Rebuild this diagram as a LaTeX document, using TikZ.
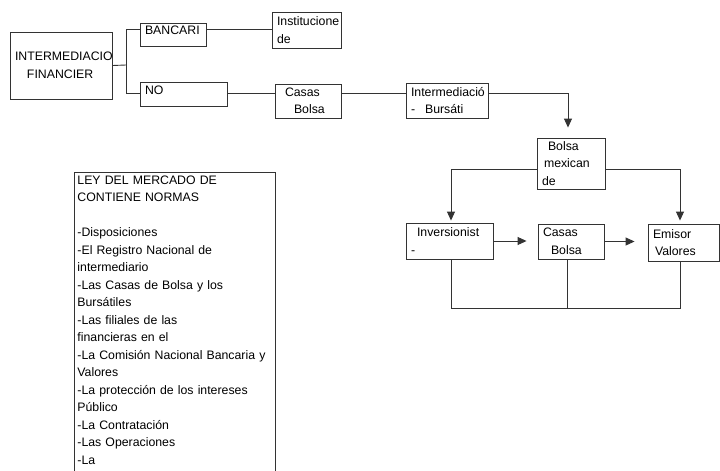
\documentclass[tikz,border=0pt]{standalone}
\usepackage{fontspec}
\setmainfont{Liberation Sans}
\usetikzlibrary{arrows.meta,calc}
\hyphenpenalty=10000

\begin{document}
\begin{tikzpicture}[x=1pt,y=-1pt,
			blk/.style={draw=black!80,line width=0.9pt,inner xsep=5pt,inner ysep=0pt,align=left,font=\fontsize{12.3}{17.5}\selectfont},
			ln/.style={draw=black!80,line width=0.9pt},
			arr/.style={ln,-{Triangle[length=9pt,width=8pt]}}]
		\useasboundingbox (0,0) rectangle (720,471);
		\path 	(61,65.5) 	node 	(fin) [blk,text width=92pt,minimum height=67pt] {INTERMEDIACIO\\\hspace*{12pt}FINANCIER}
		        (173,34.5) 	node 	(banc) [blk,text width=56pt,minimum height=23pt] {BANCARI\\[-9pt]\mbox{}}
		        (306.5,30) 	node 	(inst) [blk,text width=59pt,minimum height=36pt] {Institucione\\de}
		        (183.5,94) 	node 	(nob) [blk,text width=77pt,minimum height=24pt] {NO\\[-9pt]\mbox{}}
		        (308,101) 	node 	(cb1) [blk,text width=56pt,minimum height=34pt] {\hspace*{5pt}Casas\\\hspace*{14pt}Bolsa}
		        (447,100.5) node 	(ib) [blk,text width=72pt,minimum height=35pt] {Intermediació\\-\hspace*{10pt}Bursáti}
		        (571,163.5) node 	(bmv) [blk,text width=58pt,minimum height=51pt] {\hspace*{6pt}Bolsa\\\hspace*{2pt}mexican\\de}
		        (449.5,241) node 	(inv) [blk,text width=77pt,minimum height=36pt] {\hspace*{6pt}Inversionist\\-}
		        (571,241.5) node 	(cb2) [blk,text width=56pt,minimum height=35pt] {Casas\\\hspace*{8pt}Bolsa}
		        (683.5,242.5) node 	(emi) [blk,text width=61pt,minimum height=37pt] {Emisor\\\hspace*{2pt}Valores}
		        (74,172) 	node 	(ley) [blk,anchor=north west,text width=195pt,inner xsep=3pt,inner ysep=3pt]
		        {LEY DEL MERCADO DE\\CONTIENE NORMAS\\\mbox{}\\-Disposiciones\\-El Registro Nacional de\\intermediario\\-Las Casas de Bolsa y los\\Bursátiles\\-Las filiales de las\\financieras en el\\-La Comisión Nacional Bancaria y\\Valores\\-La protección de los intereses\\Público\\-La Contratación\\-Las Operaciones\\-La\\\mbox{}\\\mbox{}};
		% ramas del sistema financiero
		\draw [ln] (fin.east) -- (126,65) coordinate (j1);
		\draw [ln] (j1) |- ([yshift=5.5pt]banc.west);
		\draw [ln] (j1) |- ([yshift=1pt]nob.west);
		\draw [ln] ([yshift=5.5pt]banc.east) -- ([yshift=5.5pt]banc.east -| inst.west);
		\draw [ln] ([yshift=1pt]nob.east) -- ([yshift=1pt]nob.east -| cb1.west);
		\draw [ln] ([yshift=8pt]cb1.east) -- ([yshift=8pt]cb1.east -| ib.west);
		\draw [arr,shorten >=10pt] ([yshift=7.5pt]ib.east) -| ([xshift=-3pt]bmv.north);
		% mercado de valores
		\draw [arr,shorten >=2pt] ([yshift=-6pt]bmv.west) -| ([xshift=1.5pt]inv.north);
		\draw [arr,shorten >=3pt] ([yshift=-6pt]bmv.east) -| ([xshift=-3.5pt]emi.north);
		\draw [arr,shorten >=11pt] (inv.east) -- (inv.east -| cb2.west);
		\draw [arr,shorten >=13pt] (cb2.east) -- (cb2.east -| emi.west);
		\coordinate (bt) at (0,308);
		\draw [ln] ([xshift=1.5pt]inv.south) -- ([xshift=1.5pt]inv.south |- bt) -- ([xshift=-3.5pt]emi.south |- bt) -- ([xshift=-3.5pt]emi.south);
		\draw [ln] ([xshift=-4pt]cb2.south) -- ([xshift=-4pt]cb2.south |- bt);
	\end{tikzpicture}
\end{document}
